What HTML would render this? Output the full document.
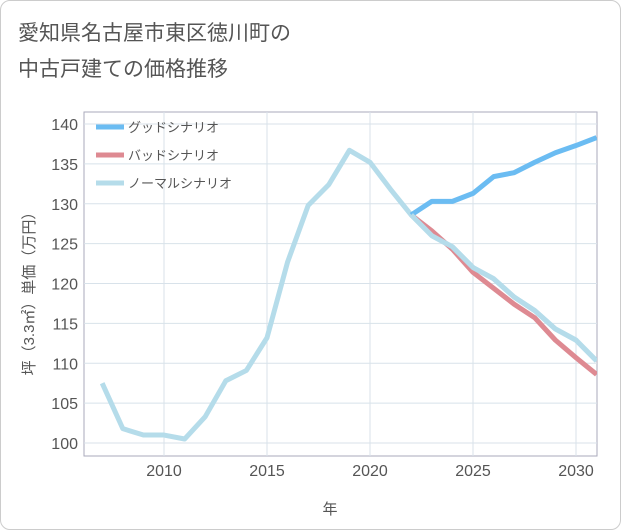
<!DOCTYPE html>
<html><head><meta charset="utf-8"><style>
body{margin:0;background:#fff;font-family:"Liberation Sans","Noto Sans CJK JP",sans-serif;}
#wrap{position:relative;width:619px;height:528px;border:1px solid #ccc;border-radius:10px;background:#fff;}
</style></head><body>
<div id="wrap">
<svg id="chart" width="621" height="530" style="position:absolute;left:-1px;top:-1px">
<text x="18" y="40" font-size="21" fill="#555">愛知県名古屋市東区徳川町の</text>
<text x="18" y="76" font-size="21" fill="#555">中古戸建ての価格推移</text>
<text x="330" y="514" font-size="15" fill="#555" text-anchor="middle">年</text>
<text transform="translate(34,290) rotate(-90)" font-size="15" fill="#555" text-anchor="middle">坪（3.3㎡）単価（万円）</text>
<g id="grid"></g><g id="series"></g><g id="legend"></g>
</svg></div>
<script>
const years=[2007,2008,2009,2010,2011,2012,2013,2014,2015,2016,2017,2018,2019,2020,2021,2022,2023,2024,2025,2026,2027,2028,2029,2030,2031];
const normalVals=[107.5,101.8,101,101,100.5,103.3,107.8,109.1,113.2,122.7,129.8,132.4,136.7,135.2,131.8,128.6,126,124.6,122,120.6,118.3,116.6,114.3,112.9,110.3];
const goodYears=[2022,2023,2024,2025,2026,2027,2028,2029,2030,2031];
const goodVals=[128.6,130.3,130.3,131.3,133.4,133.9,135.2,136.4,137.3,138.3];
const badVals=[128.6,126.6,124.3,121.4,119.4,117.4,115.7,112.9,110.7,108.6];
const xTicks=[2010,2015,2020,2025,2030];
const yTicks=[100,105,110,115,120,125,130,135,140];
const L=84,R=597,T=112,B=456;
const x=y=>164+(y-2010)*20.6;
const yv=v=>443-(v-100)*7.975;
const NS="http://www.w3.org/2000/svg";
function mk(t,a,p){const e=document.createElementNS(NS,t);for(const k in a)e.setAttribute(k,a[k]);p.appendChild(e);return e;}
const g=document.getElementById('grid');
const frame=mk('rect',{x:L,y:T,width:R-L,height:B-T,fill:'none',stroke:'#aab'},g);


yTicks.forEach(v=>{const l=mk('line',{x1:L,x2:R,y1:yv(v),y2:yv(v),stroke:'#d8e2ea'},g);


const t=mk('text',{x:L-6,y:yv(v)+6,'font-size':16,fill:'#555','text-anchor':'end'},g);t.textContent=v;

});
xTicks.forEach(v=>{const l=mk('line',{x1:x(v),x2:x(v),y1:T,y2:B,stroke:'#d8e2ea'},g);


const t=mk('text',{x:x(v),y:B+20,'font-size':16,fill:'#555','text-anchor':'middle'},g);t.textContent=v;

});
const s=document.getElementById('series');
mk('clipPath',{id:'cp'},s).appendChild(Object.assign(document.createElementNS(NS,'rect'),{}));
document.querySelector('#cp rect')||0;
const cr=document.getElementById('cp').firstChild;cr.setAttribute('x',L);cr.setAttribute('y',T);cr.setAttribute('width',R-L);cr.setAttribute('height',B-T);
function line(xs,vs,c,name){const p=mk('polyline',{points:xs.map((yr,i)=>x(yr)+','+yv(vs[i])).join(' '),fill:'none',stroke:c,'stroke-width':5,'stroke-linejoin':'round','clip-path':'url(#cp)'},s);

}
line(years,normalVals,'#b5dcea','normal-series-line');
line(goodYears,badVals,'#de8a92','bad-series-line');
line(goodYears,goodVals,'#6bbcf2','good-series-line');
line(years.slice(15),normalVals.slice(15),'#b5dcea','normal-series-line-front');
const lg=document.getElementById('legend');
[['グッドシナリオ','#6bbcf2'],['バッドシナリオ','#de8a92'],['ノーマルシナリオ','#b5dcea']].forEach((d,i)=>{const yy=127+i*28;
const l=mk('line',{x1:96,x2:124,y1:yy,y2:yy,stroke:d[1],'stroke-width':5},lg);


const t=mk('text',{x:128,y:yy+5,'font-size':13,fill:'#555'},lg);t.textContent=d[0];

});
</script></body></html>
